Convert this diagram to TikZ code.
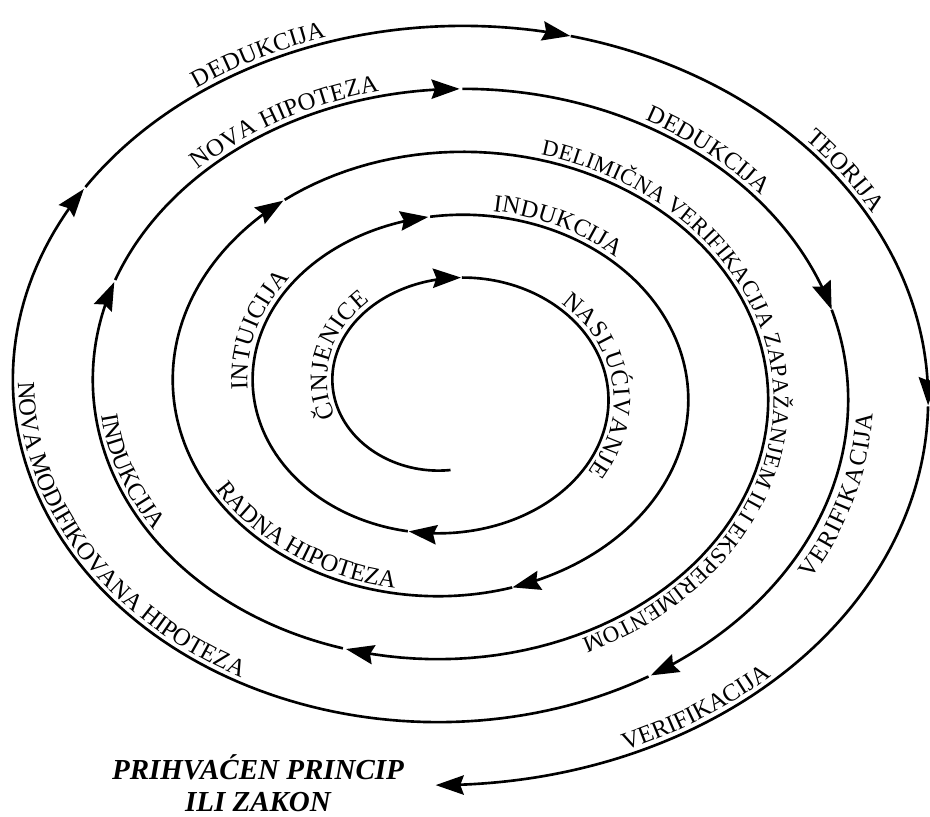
\documentclass[tikz,border=0pt]{standalone}
\usepackage{fontspec}
\setmainfont{Liberation Serif}
\usetikzlibrary{arrows.meta, decorations.text}

% the spiral, t = number of turns from the inner end
\pgfmathdeclarefunction{spx}{1}{\pgfmathparse{450.5-(97.5+80*#1)*sin(360*#1)}}
\pgfmathdeclarefunction{spy}{1}{\pgfmathparse{426.25-(80.25+63*#1)*cos(360*#1)}}
\newcommand{\lblfont}{\fontsize{14}{16}\selectfont}
\newcommand{\longlblfont}{\fontsize{13}{15}\selectfont}

\begin{document}
\begin{tikzpicture}[
    x=0.02cm, y=0.02cm,
    spiral/.style={line width=1.5pt, -{Stealth[length=16pt, width=11pt, inset=2pt]}},
    curvelabel/.style={decorate, decoration={text along path, text align=center, raise=3pt}},
    lawlabel/.style={font=\fontsize{16.5}{18}\selectfont\bfseries\itshape, align=center}
]
    \useasboundingbox (0,0) rectangle (930,816);

    % spiral, piece by piece so that every piece ends in an arrow
    \draw [spiral] plot[domain=0:0.513, samples=100] ({spx(\x)}, {spy(\x)});
    \draw [spiral] plot[domain=0.513:1.038, samples=100] ({spx(\x)}, {spy(\x)});
    \draw [spiral] plot[domain=1.038:1.485, samples=100] ({spx(\x)}, {spy(\x)});
    \draw [spiral] plot[domain=1.485:1.961, samples=100] ({spx(\x)}, {spy(\x)});
    \draw [spiral] plot[domain=1.961:2.403, samples=100] ({spx(\x)}, {spy(\x)});
    \draw [spiral] plot[domain=2.403:3.051, samples=100] ({spx(\x)}, {spy(\x)});
    \draw [spiral] plot[domain=3.051:3.312, samples=100] ({spx(\x)}, {spy(\x)});
    \draw [spiral] plot[domain=3.312:3.505, samples=100] ({spx(\x)}, {spy(\x)});
    \draw [spiral] plot[domain=3.505:3.709, samples=100] ({spx(\x)}, {spy(\x)});
    \draw [spiral] plot[domain=3.709:3.92, samples=100] ({spx(\x)}, {spy(\x)});
    \draw [spiral] plot[domain=3.92:4.347, samples=100] ({spx(\x)}, {spy(\x)});
    \draw [spiral] plot[domain=4.347:4.542, samples=100] ({spx(\x)}, {spy(\x)});
    \draw [spiral] plot[domain=4.542:4.757, samples=100] ({spx(\x)}, {spy(\x)});
    \draw [spiral] plot[domain=4.757:5.005, samples=100] ({spx(\x)}, {spy(\x)});

    % labels on the outer side of the spiral
    \path [curvelabel, decoration={text={|\lblfont|ČINJENICE}}] plot[domain=0.18:0.42, samples=40] ({spx(\x)}, {spy(\x)});
    \path [curvelabel, decoration={text={|\lblfont|NASLUĆIVANJE}}] plot[domain=0.61:0.87, samples=40] ({spx(\x)}, {spy(\x)});
    \path [curvelabel, decoration={text={|\lblfont|INTUICIJA}}] plot[domain=1.225:1.385, samples=40] ({spx(\x)}, {spy(\x)});
    \path [curvelabel, decoration={text={|\lblfont|INDUKCIJA}}] plot[domain=1.5:1.66, samples=40] ({spx(\x)}, {spy(\x)});
    \path [curvelabel, decoration={text={|\longlblfont|DELIMIČNA VERIFIKACIJA ZAPAŽANJEM ILI EKSPERIMENTOM}}] plot[domain=2.49:2.99, samples=80] ({spx(\x)}, {spy(\x)});
    \path [curvelabel, decoration={text={|\lblfont|NOVA HIPOTEZA}}] plot[domain=3.354:3.494, samples=40] ({spx(\x)}, {spy(\x)});
    \path [curvelabel, decoration={text={|\lblfont|DEDUKCIJA}}] plot[domain=3.565:3.665, samples=40] ({spx(\x)}, {spy(\x)});
    \path [curvelabel, decoration={text={|\lblfont|DEDUKCIJA}}] plot[domain=4.38:4.48, samples=40] ({spx(\x)}, {spy(\x)});
    \path [curvelabel, decoration={text={|\lblfont|TEORIJA}}] plot[domain=4.62:4.69, samples=40] ({spx(\x)}, {spy(\x)});

    % labels read against the spiral, on the inner side
    \path [curvelabel, decoration={text={|\lblfont|RADNA HIPOTEZA}}] plot[domain=2.205:2.005, samples=40] ({spx(\x)}, {spy(\x)});
    \path [curvelabel, decoration={text={|\lblfont|INDUKCIJA}}] plot[domain=3.26:3.14, samples=40] ({spx(\x)}, {spy(\x)});
    \path [curvelabel, decoration={text={|\lblfont|NOVA MODIFIKOVANA HIPOTEZA}}] plot[domain=4.28:4.06, samples=60] ({spx(\x)}, {spy(\x)});
    \path [curvelabel, decoration={text={|\lblfont|VERIFIKACIJA}, raise=-14pt}] plot[domain=3.86:3.74, samples=40] ({spx(\x)}, {spy(\x)});
    \path [curvelabel, decoration={text={|\lblfont|VERIFIKACIJA}}] plot[domain=4.962:4.862, samples=40] ({spx(\x)}, {spy(\x)});

    \node [lawlabel] (law) at (258,33) {PRIHVAĆEN PRINCIP\\ILI ZAKON};
\end{tikzpicture}
\end{document}
